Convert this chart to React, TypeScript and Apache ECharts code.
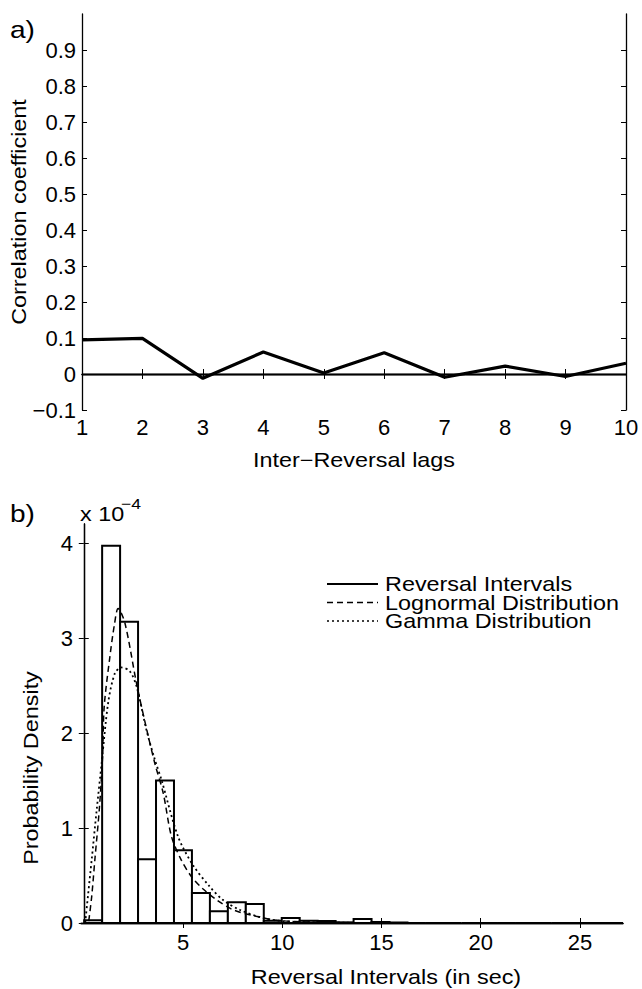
import React, { useEffect, useRef } from 'react';
import * as echarts from 'echarts';

// ---------- panel a) data ----------
const lags = [1, 2, 3, 4, 5, 6, 7, 8, 9, 10];
const corrCoef = [0.095, 0.099, -0.012, 0.061, 0.003, 0.059, -0.009, 0.022, -0.007, 0.03];
const corrTicks = [-0.1, 0, 0.1, 0.2, 0.3, 0.4, 0.5, 0.6, 0.7, 0.8, 0.9];

// ---------- panel b) data ----------
const histEdges = [0.02, 0.925, 1.83, 2.735, 3.64, 4.545, 5.45, 6.355, 7.26, 8.165, 9.07, 9.975, 10.88, 11.785, 12.69, 13.595, 14.5, 15.405, 16.31, 17.215, 18.12, 19.025, 19.93, 20.835, 21.74, 22.645, 23.55, 24.455, 25.36, 26.265, 27.17];
const histDensity = [0.028, 3.97, 3.17, 0.67, 1.5, 0.765, 0.316, 0.123, 0.218, 0.2, 0.025, 0.053, 0.025, 0.02, 0.007, 0.042, 0.01, 0.005, 0, 0, 0, 0, 0, 0, 0, 0, 0, 0, 0, 0];

const lognormalX = [0.25, 0.4, 0.56, 0.78, 0.94, 1.03, 1.32, 1.55, 1.73, 2.07, 2.66, 3.08, 3.58, 4.0, 4.42, 4.92, 5.42, 6.0, 6.68, 7.51, 8.69, 9.69, 11, 13, 16, 20, 27.17];
const lognormalY = [0.02, 0.28, 0.67, 1.19, 1.72, 2.28, 2.81, 3.15, 3.31, 3.16, 2.52, 2.12, 1.68, 1.37, 0.91, 0.66, 0.49, 0.36, 0.245, 0.14, 0.07, 0.03, 0.012, 0.004, 0.001, 0, 0];

const gammaX = [0.07, 0.4, 0.65, 0.9, 1.23, 1.57, 1.9, 2.32, 2.66, 3.16, 3.58, 3.91, 4.75, 5.5, 6.34, 7.0, 7.85, 9.02, 10.0, 11.5, 13, 16, 20, 27.17];
const gammaY = [0, 0.67, 1.19, 1.68, 2.32, 2.63, 2.69, 2.65, 2.49, 2.03, 1.72, 1.51, 0.91, 0.61, 0.385, 0.245, 0.14, 0.053, 0.02, 0.008, 0.003, 0, 0, 0];

const intervalTicks = [5, 10, 15, 20, 25];
const densityTicks = [0, 1, 2, 3, 4];

const legendNames = ['Reversal Intervals', 'Lognormal Distribution', 'Gamma Distribution'];

const FONT = '"Liberation Sans", Arial, Helvetica, sans-serif';
const FS = 20;
const TICK_FS = 22;
const SX = 1.17;

const fmtMinus = (v: number) => (v < 0 ? '\u2212' + String(Math.abs(v)) : String(v));

export default function App() {
  const ref = useRef<HTMLDivElement>(null);
  useEffect(() => {
    if (!ref.current) return;
    const chart = echarts.init(ref.current, null, { renderer: 'svg' });
    const axisLine = { show: true, lineStyle: { color: '#000', width: 1.3 } };
    const tickIn = { show: true, inside: true, length: 5, lineStyle: { color: '#000', width: 1 } };
    const labelStyle = { color: '#000', fontSize: TICK_FS, fontFamily: FONT };

    const gridA = { left: 82, top: 14, width: 544, height: 396 };
    const gridB = { left: 81, top: 524, width: 542, height: 399 };

    const legendTop = 584;
    const legendStep = 18.5;
    const lx0 = 327;
    const lx1 = 378;
    const dashes = [null, [6, 4], [2, 3]];

    const txt = (text: string, x: number, y: number, opts: any = {}) => ({
      type: 'text',
      x,
      y,
      scaleX: opts.scaleX ?? SX,
      rotation: opts.rotation ?? 0,
      style: {
        text,
        fontSize: opts.fontSize ?? FS,
        fontFamily: FONT,
        fill: '#000',
        textAlign: opts.align ?? 'left',
        textVerticalAlign: opts.valign ?? 'middle',
        lineHeight: opts.lineHeight,
      },
    });

    const graphics: any[] = [
      txt('a)', 10, 30, { fontSize: 24 }),
      txt('b)', 10, 514, { fontSize: 24 }),
      txt('x 10', 80, 514, { fontSize: FS }),
      txt('\u22124', 121, 503, { fontSize: 15 }),
      txt('Inter\u2212Reversal lags', 354, 460, { align: 'center' }),
      txt('Correlation coefficient', 19, 212, { align: 'center', rotation: Math.PI / 2 }),
      txt('Reversal Intervals (in sec)', 386, 977, { align: 'center' }),
      txt('Probability Density', 31, 768, { align: 'center', rotation: Math.PI / 2 }),
    ];
    legendNames.forEach((name, i) => {
      const y = legendTop + i * legendStep;
      graphics.push({
        type: 'line',
        shape: { x1: lx0, y1: y, x2: lx1, y2: y },
        style: { stroke: '#000', lineWidth: i === 0 ? 2 : 1.5, lineDash: dashes[i] || undefined },
      });
      graphics.push(txt(name, lx1 + 7, y + 0.5, { lineHeight: 17 }));
    });

    chart.setOption({
      animation: false,
      backgroundColor: '#fff',
      textStyle: { fontFamily: FONT },
      grid: [gridA, gridB],
      xAxis: [
        {
          gridIndex: 0, type: 'value', min: 1, max: 10, interval: 1, position: 'bottom',
          axisLine, axisTick: tickIn, splitLine: { show: false },
          axisLabel: { ...labelStyle, margin: 6 },
        },
        {
          gridIndex: 0, type: 'value', min: 1, max: 10, interval: 1, position: 'top',
          axisLine, axisTick: tickIn, splitLine: { show: false }, axisLabel: { show: false },
        },
        {
          gridIndex: 1, type: 'value', min: -0.14, max: 27.17, position: 'bottom',
          axisLine, splitLine: { show: false },
          axisTick: { ...tickIn, customValues: intervalTicks },
          axisLabel: { ...labelStyle, margin: 8, customValues: intervalTicks },
        },
        {
          gridIndex: 1, type: 'value', min: -0.14, max: 27.17, position: 'top',
          axisLine, splitLine: { show: false },
          axisTick: { ...tickIn, customValues: intervalTicks },
          axisLabel: { show: false },
        },
      ],
      yAxis: [
        {
          gridIndex: 0, type: 'value', min: -0.1, max: 1.0, position: 'left',
          axisLine, splitLine: { show: false },
          axisTick: { ...tickIn, customValues: corrTicks },
          axisLabel: { ...labelStyle, margin: 6, customValues: corrTicks, formatter: fmtMinus },
        },
        {
          gridIndex: 0, type: 'value', min: -0.1, max: 1.0, position: 'right',
          axisLine, splitLine: { show: false },
          axisTick: { ...tickIn, customValues: corrTicks },
          axisLabel: { show: false },
        },
        {
          gridIndex: 1, type: 'value', min: 0, max: 4.2, position: 'left',
          axisLine, splitLine: { show: false },
          axisTick: { ...tickIn, customValues: densityTicks },
          axisLabel: { ...labelStyle, margin: 8, customValues: densityTicks },
        },
        {
          gridIndex: 1, type: 'value', min: 0, max: 4.2, position: 'right',
          axisLine, splitLine: { show: false },
          axisTick: { ...tickIn, customValues: densityTicks },
          axisLabel: { show: false },
        },
      ],
      series: [
        {
          type: 'line', xAxisIndex: 0, yAxisIndex: 0,
          data: lags.map((l, i) => [l, corrCoef[i]]),
          showSymbol: false, symbol: 'none',
          lineStyle: { color: '#000', width: 3.2 },
          z: 5,
          markLine: {
            silent: true, symbol: 'none', label: { show: false },
            lineStyle: { color: '#000', width: 1.3, type: 'solid' },
            data: [{ yAxis: 0 }],
          },
        },
        {
          type: 'custom', name: legendNames[0], xAxisIndex: 2, yAxisIndex: 2,
          data: histDensity.map((h, i) => [histEdges[i], histEdges[i + 1], h]),
          encode: { x: [0, 1], y: 2 },
          z: 2,
          renderItem: (params: any, api: any) => {
            const p0 = api.coord([api.value(0), 0]);
            const p1 = api.coord([api.value(1), api.value(2)]);
            return {
              type: 'rect',
              shape: { x: p0[0], y: p1[1], width: p1[0] - p0[0], height: p0[1] - p1[1] },
              style: { fill: '#fff', stroke: '#000', lineWidth: 2 },
            };
          },
        },
        {
          type: 'line', name: legendNames[1], xAxisIndex: 2, yAxisIndex: 2,
          data: lognormalX.map((x, i) => [x, lognormalY[i]]),
          showSymbol: false, symbol: 'none', smooth: 0.3,
          lineStyle: { color: '#000', width: 1.5, type: [6, 4] },
          z: 4,
        },
        {
          type: 'line', name: legendNames[2], xAxisIndex: 2, yAxisIndex: 2,
          data: gammaX.map((x, i) => [x, gammaY[i]]),
          showSymbol: false, symbol: 'none', smooth: 0.3,
          lineStyle: { color: '#000', width: 1.8, type: [2, 3] },
          z: 4,
        },
      ],
      graphic: graphics,
    });
    return () => chart.dispose();
  }, []);
  return (
    <div
      ref={ref}
      style={{ position: 'absolute', left: 0, top: 0, width: 642, height: 989, background: '#fff' }}
    />
  );
}
